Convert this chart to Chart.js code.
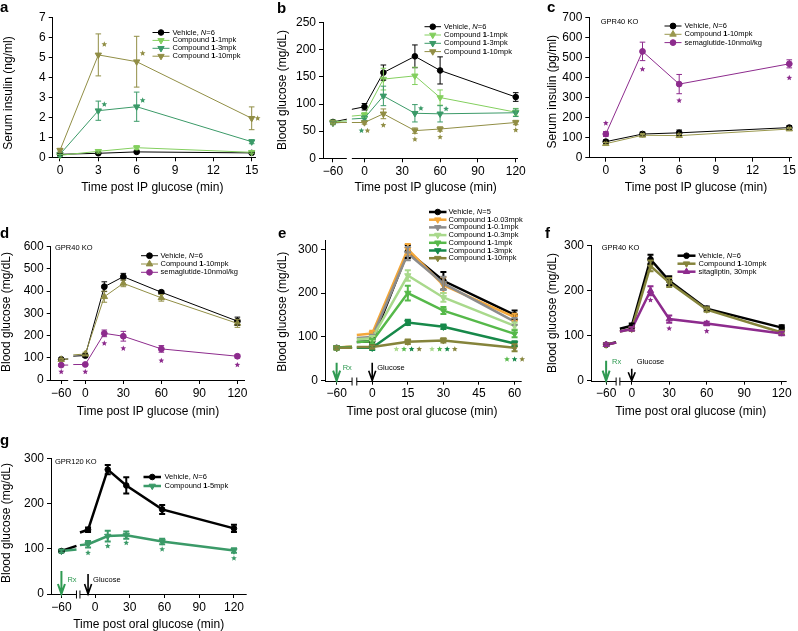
<!DOCTYPE html>
<html>
<head>
<meta charset="utf-8">
<script src="https://cdn.jsdelivr.net/npm/chart.js@4.4.1/dist/chart.umd.min.js"></script>
<style>
  body { margin: 0; background: #fff; width: 798px; height: 631px; overflow: hidden; position: relative; }
  canvas { position: absolute; }
</style>
</head>
<body>
<script>
// ---- a: serum insulin after IP glucose ----
const aTime = [0, 3, 6, 15];
const aVehicle = [0.15, 0.2, 0.27, 0.22];
const aVehicleErr = [0.05, 0.05, 0.05, 0.04];
const a1mpk = [0.1, 0.3, 0.48, 0.25];
const a1mpkErr = [0.05, 0.08, 0.1, 0.05];
const a3mpk = [0.15, 2.33, 2.53, 0.78];
const a3mpkErr = [0.1, 0.48, 0.73, 0.1];
const a10mpk = [0.35, 5.12, 4.78, 1.95];
const a10mpkErr = [0.1, 1.05, 1.27, 0.57];
const a3mpkStar = [null, 2.65, 2.85, null];
const a10mpkStar = [null, 5.65, 5.2, 1.95];

// ---- b: blood glucose, IP glucose ----
const bTime = [-60, 0, 15, 40, 60, 120];
const bVehicle = [67, 95, 158, 188, 162, 113];
const bVehicleErr = [3, 6, 14, 21, 25, 8];
const b1mpk = [67, 80, 146, 152, 112, 85];
const b1mpkErr = [3, 4, 20, 16, 14, 7];
const b3mpk = [65, 74, 115, 83, 82, 84];
const b3mpkErr = [3, 4, 18, 16, 15, 7];
const b10mpk = [66, 66, 82, 51, 54, 66];
const b10mpkErr = [3, 3, 9, 5, 4, 4];
const b3mpkStar = [null, 51, null, 92, 91, null];
const b10mpkStar = [null, 51, 61, 35, 39, 52];

// ---- c: GPR40 KO serum insulin ----
const cTime = [0, 3, 6, 15];
const cVehicle = [80, 118, 124, 150];
const cVehicleErr = [8, 10, 14, 10];
const cCmpd = [70, 112, 110, 143];
const cCmpdErr = [6, 8, 8, 6];
const cSema = [118, 530, 367, 468];
const cSemaErr = [12, 46, 48, 20];
const cSemaStar = [172, 441, 285, 398];

// ---- d: GPR40 KO blood glucose, IP ----
const dTime = [-60, 0, 15, 30, 60, 120];
const dVehicle = [93, 110, 420, 465, 395, 265];
const dVehicleErr = [5, 8, 22, 15, 8, 18];
const dCmpd = [92, 117, 375, 435, 370, 255];
const dCmpdErr = [5, 8, 25, 15, 15, 18];
const dSema = [67, 70, 210, 197, 140, 107];
const dSemaErr = [5, 5, 15, 22, 15, 8];
const dSemaStar = [37, 37, 165, 142, 87, 68];

// ---- e: dose response, oral glucose ----
const eTime = [-60, 0, 15, 30, 60];
const eVehicle = [75, 90, 295, 228, 150];
const eVehicleErr = [3, 6, 15, 20, 10];
const e003 = [75, 108, 300, 218, 145];
const e003Err = [3, 6, 12, 18, 8];
const e01 = [75, 100, 290, 222, 135];
const e01Err = [3, 5, 15, 15, 8];
const e03 = [75, 97, 240, 190, 125];
const e03Err = [3, 5, 12, 10, 8];
const e1 = [75, 90, 200, 160, 107];
const e1Err = [3, 5, 17, 8, 8];
const e3 = [75, 75, 133, 123, 85];
const e3Err = [3, 5, 6, 5, 5];
const e10 = [75, 77, 89, 92, 75];
const e10Err = [3, 4, 5, 5, 8];
const e03Star = [null, null, 72, 72, null];
const e1Star = [null, null, 72, 72, 49];
const e3Star = [null, null, 72, 72, 49];
const e10Star = [null, null, 72, 72, 49];

// ---- f: GPR40 KO, oral glucose ----
const fTime = [-60, 0, 15, 30, 60, 120];
const fVehicle = [80, 122, 270, 222, 160, 118];
const fVehicleErr = [3, 5, 10, 10, 5, 5];
const fCmpd = [80, 115, 255, 218, 158, 107];
const fCmpdErr = [3, 4, 12, 10, 5, 4];
const fSita = [80, 115, 200, 137, 127, 105];
const fSitaErr = [3, 4, 10, 8, 4, 4];
const fSitaStar = [null, null, 179, 116, 110, null];

// ---- g: GPR120 KO, oral glucose ----
const gTime = [-60, -6, 11, 27, 58, 120];
const gVehicle = [95, 142, 275, 240, 187, 145];
const gVehicleErr = [2, 5, 10, 18, 10, 8];
const gCmpd = [95, 110, 128, 130, 116, 96];
const gCmpdErr = [3, 7, 12, 8, 6, 5];
const gCmpdStar = [null, 91, 106, 113, 99, 79];

const ipTicks = [0, 3, 6, 9, 12, 15];
const longTicks = [-60, 0, 30, 60, 90, 120];
const eTicks = [-60, 0, 15, 30, 45, 60];

const FONT = "'Liberation Sans', Arial, Helvetica, sans-serif";
Chart.defaults.font.family = FONT;
Chart.defaults.font.size = 12;
Chart.defaults.color = '#000';

const C = {
  black: '#000000', g1: '#83cf5e', g3: '#3b9a68', olive: '#918e45',
  purple: '#8d2b8d', oliveC: '#9a984e', orange: '#f3a73a', gray: '#8c8c8c',
  lg: '#a9d98c', green: '#56b94a', dg: '#17894a', oliveE: '#85843b', rx: '#2f9a52'
};

const panels = [
  {
    id: 'a', box: [0, 0, 266, 205], area: [52.7, 17.3, 255, 157.3], x: [-0.57, 15.26], y: [0, 7, 1],
    xTicks: ipTicks, time: aTime, lw: 1, r: 2.8, cap: 2.8, ebw: 1,
    series: [
      { label: 'Vehicle, _N_=6', data: aVehicle, err: aVehicleErr, color: C.black, shape: 'circle' },
      { label: 'Compound *1*-1mpk', data: a1mpk, err: a1mpkErr, color: C.g1, shape: 'down' },
      { label: 'Compound *1*-3mpk', data: a3mpk, err: a3mpkErr, star: a3mpkStar, color: C.g3, shape: 'down', starDx: 6 },
      { label: 'Compound *1*-10mpk', data: a10mpk, err: a10mpkErr, star: a10mpkStar, color: C.olive, shape: 'down', starDx: 6 }
    ],
    legend: { x0: 152.5, x1: 169.5, tx: 172.5, y0: 32.5, dy: 7.9 },
    letter: { t: 'a', x: 0, y: 12 },
    xTitle: { t: 'Time post IP glucose (min)', x: 152.3, y: 187.7 },
    yTitle: { t: 'Serum insulin (ng/ml)', x: 9, y: 93 }
  },
  {
    id: 'b', box: [266, 0, 266, 205], area: [323, 22.7, 518, 158.3], x: [-32.9, 121.8], y: [0, 250, 50],
    xTicks: longTicks, time: bTime, lw: 1, r: 2.8, cap: 2.8, ebw: 1,
    brk: { shift: 35, gapL: -14, gapR: -10, marks: false },
    series: [
      { label: 'Vehicle, _N_=6', data: bVehicle, err: bVehicleErr, color: C.black, shape: 'circle' },
      { label: 'Compound *1*-1mpk', data: b1mpk, err: b1mpkErr, color: C.g1, shape: 'down' },
      { label: 'Compound *1*-3mpk', data: b3mpk, err: b3mpkErr, star: b3mpkStar, color: C.g3, shape: 'down', starDx: 6 },
      { label: 'Compound *1*-10mpk', data: b10mpk, err: b10mpkErr, star: b10mpkStar, color: C.olive, shape: 'down' }
    ],
    legend: { x0: 424.5, x1: 441, tx: 444, y0: 26.7, dy: 8.3 },
    letter: { t: 'b', x: 277, y: 12.5 },
    xTitle: { t: 'Time post IP glucose (min)', x: 425.7, y: 188 },
    yTitle: { t: 'Blood glucose (mg/dL)', x: 282.5, y: 90 }
  },
  {
    id: 'c', box: [532, 0, 266, 205], area: [589.3, 17.3, 793.5, 157.7], x: [-1.35, 15.15], y: [0, 700, 100],
    xTicks: ipTicks, time: cTime, lw: 1, r: 2.9, cap: 2.8, ebw: 1,
    series: [
      { label: 'Vehicle, _N_=6', data: cVehicle, err: cVehicleErr, color: C.black, shape: 'circle' },
      { label: 'Compound *1*-10mpk', data: cCmpd, err: cCmpdErr, color: C.oliveC, shape: 'up' },
      { label: 'semaglutide-10nmol/kg', data: cSema, err: cSemaErr, star: cSemaStar, color: C.purple, shape: 'circle' }
    ],
    legend: { x0: 664.5, x1: 681.5, tx: 684.5, y0: 26, dy: 8.3 },
    note: { t: 'GPR40 KO', x: 600.7, y: 21.7 },
    letter: { t: 'c', x: 547, y: 12 },
    xTitle: { t: 'Time post IP glucose (min)', x: 696, y: 188 },
    yTitle: { t: 'Serum insulin (pg/ml)', x: 553, y: 91.7 }
  },
  {
    id: 'd', box: [0, 205, 266, 214], area: [50.7, 246.7, 245, 380], x: [-27.3, 126], y: [0, 600, 100],
    xTicks: longTicks, time: dTime, lw: 1, r: 2.9, cap: 2.8, ebw: 1,
    brk: { shift: 41, gapL: -13.5, gapR: -9.5, marks: false },
    series: [
      { label: 'Vehicle, _N_=6', data: dVehicle, err: dVehicleErr, color: C.black, shape: 'circle' },
      { label: 'Compound *1*-10mpk', data: dCmpd, err: dCmpdErr, color: C.olive, shape: 'up' },
      { label: 'semaglutide-10nmol/kg', data: dSema, err: dSemaErr, star: dSemaStar, color: C.purple, shape: 'circle' }
    ],
    legend: { x0: 141, x1: 158, tx: 160.5, y0: 255.7, dy: 8.3 },
    note: { t: 'GPR40 KO', x: 55, y: 248 },
    letter: { t: 'd', x: 0, y: 238 },
    xTitle: { t: 'Time post IP glucose (min)', x: 148, y: 412 },
    yTitle: { t: 'Blood glucose (mg/dL)', x: 6.7, y: 312 }
  },
  {
    id: 'e', box: [266, 205, 266, 214], area: [325, 240.5, 521.7, 380.7], x: [-19.9, 63], y: [0, 320, 100],
    xTicks: eTicks, time: eTime, lw: 2.5, r: 2.8, cap: 3, ebw: 2,
    brk: { shift: 45, gapL: -8.5, gapR: -6.5, marks: true },
    starGap: 7.6,
    series: [
      { label: 'Vehicle, _N_=5', data: eVehicle, err: eVehicleErr, color: C.black, shape: 'circle' },
      { label: 'Compound *1*-0.03mpk', data: e003, err: e003Err, color: C.orange, shape: 'down' },
      { label: 'Compound *1*-0.1mpk', data: e01, err: e01Err, color: C.gray, shape: 'down' },
      { label: 'Compound *1*-0.3mpk', data: e03, err: e03Err, star: e03Star, color: C.lg, shape: 'down' },
      { label: 'Compound *1*-1mpk', data: e1, err: e1Err, star: e1Star, color: C.green, shape: 'down' },
      { label: 'Compound *1*-3mpk', data: e3, err: e3Err, star: e3Star, color: C.dg, shape: 'down' },
      { label: 'Compound *1*-10mpk', data: e10, err: e10Err, star: e10Star, color: C.oliveE, shape: 'down' }
    ],
    legend: { x0: 429, x1: 446.5, tx: 448.5, y0: 212, dy: 7.7 },
    arrows: { rx: -60, glu: 0, rxLen: 18, gluLen: 18, labelDy: -12.5 },
    letter: { t: 'e', x: 278, y: 238 },
    xTitle: { t: 'Time post oral glucose (min)', x: 422, y: 412 },
    yTitle: { t: 'Blood glucose (mg/dL)', x: 282.5, y: 311.7 }
  },
  {
    id: 'f', box: [532, 205, 266, 214], area: [591, 245.7, 786.7, 380.7], x: [-32.6, 124], y: [0, 300, 100],
    xTicks: longTicks, time: fTime, lw: 2.5, r: 2.8, cap: 3, ebw: 2,
    brk: { shift: 39.5, gapL: -12.5, gapR: -9.5, marks: true },
    series: [
      { label: 'Vehicle, _N_=6', data: fVehicle, err: fVehicleErr, color: C.black, shape: 'circle' },
      { label: 'Compound *1*-10mpk', data: fCmpd, err: fCmpdErr, color: C.oliveE, shape: 'down' },
      { label: 'sitagliptin, 30mpk', data: fSita, err: fSitaErr, star: fSitaStar, color: C.purple, shape: 'up' }
    ],
    legend: { x0: 677.5, x1: 695.5, tx: 698.5, y0: 255.7, dy: 8 },
    note: { t: 'GPR40 KO', x: 601.7, y: 248.3 },
    arrows: { rx: -60, glu: 0, rxLen: 20, gluLen: 12, labelDy: -19 },
    letter: { t: 'f', x: 545, y: 238 },
    xTitle: { t: 'Time post oral glucose (min)', x: 690.7, y: 412 },
    yTitle: { t: 'Blood glucose (mg/dL)', x: 553, y: 313 }
  },
  {
    id: 'g', box: [0, 419, 266, 212], area: [51, 458.3, 246.7, 594], x: [-38, 131], y: [0, 300, 100],
    xTicks: longTicks, time: gTime, lw: 2.5, r: 2.8, cap: 3, ebw: 2,
    brk: { shift: 31, gapL: -16, gapR: -13, marks: true },
    series: [
      { label: 'Vehicle, _N_=6', data: gVehicle, err: gVehicleErr, color: C.black, shape: 'circle' },
      { label: 'Compound *1*-5mpk', data: gCmpd, err: gCmpdErr, star: gCmpdStar, color: C.g3, shape: 'down' }
    ],
    legend: { x0: 143.5, x1: 161, tx: 164.5, y0: 477, dy: 9 },
    note: { t: 'GPR120 KO', x: 55, y: 461.7 },
    arrows: { rx: -60, glu: -6, rxLen: 23, gluLen: 20, labelDy: -14 },
    letter: { t: 'g', x: 0, y: 445 },
    xTitle: { t: 'Time post oral glucose (min)', x: 148.7, y: 624.3 },
    yTitle: { t: 'Blood glucose (mg/dL)', x: 6.7, y: 523 }
  }
];

// pre-break times are pulled right by brk.shift so the axis can be cut
function disp(p, t) {
  return p.brk && t <= p.brk.gapL - p.brk.shift ? t + p.brk.shift : t;
}

function fmtTick(v) {
  return v < 0 ? '\u2212' + Math.abs(v) : String(v);
}

function markerOpts(p, s) {
  return {
    pointStyle: s.shape === 'circle' ? 'circle' : 'triangle',
    rotation: s.shape === 'down' ? 180 : 0,
    radius: s.shape === 'circle' ? p.r : p.r * 1.3,
    borderWidth: 1
  };
}

function drawMarker(ctx, p, s, x, y) {
  const o = markerOpts(p, s);
  ctx.fillStyle = s.color;
  ctx.strokeStyle = s.color;
  ctx.lineWidth = 1;
  if (Chart.helpers && Chart.helpers.drawPoint) {
    Chart.helpers.drawPoint(ctx, o, x, y);
    return;
  }
  ctx.beginPath();
  if (o.pointStyle === 'circle') ctx.arc(x, y, o.radius, 0, Math.PI * 2);
  else {
    const d = o.rotation ? -1 : 1;
    ctx.moveTo(x, y - d * o.radius);
    ctx.lineTo(x + o.radius * 0.87, y + d * o.radius * 0.5);
    ctx.lineTo(x - o.radius * 0.87, y + d * o.radius * 0.5);
    ctx.closePath();
  }
  ctx.fill();
}

function drawStar(ctx, x, y, r, color) {
  ctx.beginPath();
  for (let k = 0; k < 10; k++) {
    const rr = k % 2 ? r * 0.45 : r;
    const ang = -Math.PI / 2 + k * Math.PI / 5;
    ctx.lineTo(x + rr * Math.cos(ang), y + rr * Math.sin(ang));
  }
  ctx.closePath();
  ctx.fillStyle = color;
  ctx.fill();
}

// "_x_" italic, "*x*" bold
function richText(ctx, str, x, y, size) {
  str.split(/(_[^_]+_|\*[^*]+\*)/).filter(Boolean).forEach(part => {
    let style = '';
    let t = part;
    if (part[0] === '_') { style = 'italic '; t = part.slice(1, -1); }
    else if (part[0] === '*') { style = 'bold '; t = part.slice(1, -1); }
    ctx.font = style + size + 'px ' + FONT;
    ctx.fillText(t, x, y);
    x += ctx.measureText(t).width;
  });
}

function drawArrow(ctx, x, yBot, len, color, lw) {
  ctx.strokeStyle = color;
  ctx.lineWidth = lw;
  ctx.lineCap = 'butt';
  ctx.beginPath();
  ctx.moveTo(x, yBot - len);
  ctx.lineTo(x, yBot);
  ctx.moveTo(x - 3.5, yBot - Math.min(10, len * 0.7));
  ctx.lineTo(x, yBot);
  ctx.lineTo(x + 3.5, yBot - Math.min(10, len * 0.7));
  ctx.stroke();
}

function panelPlugin(p) {
  const bx = p.box[0], by = p.box[1];
  return {
    id: 'panel_' + p.id,
    beforeDatasetsDraw(chart) {
      if (!p.brk) return;
      const ctx = chart.ctx;
      const X = v => chart.scales.x.getPixelForValue(v);
      const Y = v => chart.scales.y.getPixelForValue(v);
      const cutStart = p.brk.gapL - p.brk.shift;
      ctx.save();
      ctx.lineWidth = p.lw;
      p.series.forEach(s => {
        const t0 = p.time[0], t1 = p.time[1], v0 = s.data[0], v1 = s.data[1];
        const at = t => v0 + (v1 - v0) * (t - t0) / (t1 - t0);
        ctx.strokeStyle = s.color;
        ctx.beginPath();
        ctx.moveTo(X(disp(p, t0)), Y(v0));
        ctx.lineTo(X(p.brk.gapL), Y(at(cutStart)));
        ctx.moveTo(X(p.brk.gapR), Y(at(p.brk.gapR)));
        ctx.lineTo(X(t1), Y(v1));
        ctx.stroke();
      });
      ctx.restore();
    },
    afterDatasetsDraw(chart) {
      const ctx = chart.ctx;
      const X = v => chart.scales.x.getPixelForValue(v);
      const Y = v => chart.scales.y.getPixelForValue(v);
      ctx.save();
      ctx.lineWidth = p.ebw;
      p.series.forEach(s => {
        ctx.strokeStyle = s.color;
        s.data.forEach((v, i) => {
          const e = s.err[i];
          if (!e) return;
          const x = X(disp(p, p.time[i])), yt = Y(v + e), yb = Y(v - e);
          ctx.beginPath();
          ctx.moveTo(x, yt); ctx.lineTo(x, yb);
          ctx.moveTo(x - p.cap, yt); ctx.lineTo(x + p.cap, yt);
          ctx.moveTo(x - p.cap, yb); ctx.lineTo(x + p.cap, yb);
          ctx.stroke();
        });
      });
      // significance stars; same time and height -> spread in a row
      const stars = [];
      p.series.forEach(s => {
        if (!s.star) return;
        s.star.forEach((v, i) => { if (v != null) stars.push({ t: p.time[i], v, s }); });
      });
      const groups = {};
      stars.forEach(st => { (groups[st.t + '|' + st.v] = groups[st.t + '|' + st.v] || []).push(st); });
      Object.values(groups).forEach(g => {
        g.forEach((st, k) => {
          const dx = g.length > 1 ? (k - (g.length - 1) / 2) * (p.starGap || 6) : (st.s.starDx || 0);
          drawStar(ctx, X(disp(p, st.t)) + dx, Y(st.v), 3, st.s.color);
        });
      });
      ctx.restore();
    },
    afterDraw(chart) {
      const ctx = chart.ctx;
      const ca = chart.chartArea;
      const X = v => chart.scales.x.getPixelForValue(v);
      ctx.save();
      // x axis line with a cut
      if (p.brk) {
        const yb = Math.round(ca.bottom) + 0.5;
        ctx.strokeStyle = '#000';
        ctx.lineWidth = 1;
        ctx.beginPath();
        ctx.moveTo(ca.left, yb); ctx.lineTo(X(p.brk.gapL), yb);
        ctx.moveTo(X(p.brk.gapR), yb); ctx.lineTo(ca.right, yb);
        if (p.brk.marks) {
          ctx.moveTo(X(p.brk.gapL), yb - 4); ctx.lineTo(X(p.brk.gapL), yb + 4);
          ctx.moveTo(X(p.brk.gapR), yb - 4); ctx.lineTo(X(p.brk.gapR), yb + 4);
        }
        ctx.stroke();
      }
      // dosing arrows
      if (p.arrows) {
        const a = p.arrows;
        const xr = X(disp(p, a.rx)), xg = X(disp(p, a.glu));
        drawArrow(ctx, xr, ca.bottom, a.rxLen, C.rx, 2);
        drawArrow(ctx, xg, ca.bottom, a.gluLen, '#000', 1.6);
        ctx.font = '7.5px ' + FONT;
        ctx.textAlign = 'left';
        ctx.textBaseline = 'middle';
        ctx.fillStyle = C.rx;
        ctx.fillText('Rx', xr + 6, ca.bottom + a.labelDy);
        ctx.fillStyle = '#000';
        ctx.fillText('Glucose', xg + 5, ca.bottom + a.labelDy);
      }
      ctx.fillStyle = '#000';
      ctx.textAlign = 'left';
      ctx.textBaseline = 'alphabetic';
      ctx.font = 'bold 15px ' + FONT;
      ctx.fillText(p.letter.t, p.letter.x - bx, p.letter.y - by);
      ctx.font = '12px ' + FONT;
      ctx.textAlign = 'center';
      ctx.textBaseline = 'middle';
      ctx.fillText(p.xTitle.t, p.xTitle.x - bx, p.xTitle.y - by);
      ctx.save();
      ctx.translate(p.yTitle.x - bx, p.yTitle.y - by);
      ctx.rotate(-Math.PI / 2);
      ctx.fillText(p.yTitle.t, 0, 0);
      ctx.restore();
      ctx.textAlign = 'left';
      if (p.note) {
        ctx.font = '7.5px ' + FONT;
        ctx.fillText(p.note.t, p.note.x - bx, p.note.y - by);
      }
      // legend
      const L = p.legend;
      p.series.forEach((s, i) => {
        const y = L.y0 - by + i * L.dy;
        ctx.strokeStyle = s.color;
        ctx.lineWidth = p.lw;
        ctx.beginPath();
        ctx.moveTo(L.x0 - bx, y); ctx.lineTo(L.x1 - bx, y);
        ctx.stroke();
        drawMarker(ctx, p, s, (L.x0 + L.x1) / 2 - bx, y);
        ctx.fillStyle = '#000';
        ctx.textBaseline = 'middle';
        richText(ctx, s.label, L.tx - bx, y, 7.5);
      });
      ctx.restore();
    }
  };
}

function makePanel(p) {
  const [bx, by, bw, bh] = p.box;
  const [L, T, R, B] = p.area;
  const cv = document.createElement('canvas');
  cv.width = bw; cv.height = bh;
  cv.style.left = bx + 'px'; cv.style.top = by + 'px';
  cv.style.width = bw + 'px'; cv.style.height = bh + 'px';
  document.body.appendChild(cv);
  const yW = 30, xH = 20;
  const n = p.series.length;
  new Chart(cv, {
    type: 'line',
    data: {
      datasets: p.series.map((s, i) => {
        const m = markerOpts(p, s);
        return {
          data: p.time.map((t, k) => ({ x: disp(p, t), y: s.data[k] })),
          borderColor: s.color,
          backgroundColor: s.color,
          borderWidth: p.lw,
          pointStyle: m.pointStyle,
          pointRotation: m.rotation,
          pointRadius: m.radius,
          pointBorderWidth: 1,
          pointBackgroundColor: s.color,
          pointBorderColor: s.color,
          tension: 0,
          clip: false,
          order: n - 1 - i,
          segment: { borderColor: c => (p.brk && c.p0DataIndex === 0) ? 'rgba(0,0,0,0)' : undefined }
        };
      })
    },
    options: {
      responsive: false,
      animation: false,
      events: [],
      devicePixelRatio: 1,
      layout: { padding: { left: L - bx - yW, top: T - by, right: bx + bw - R, bottom: by + bh - B - xH } },
      plugins: { legend: { display: false }, tooltip: { enabled: false } },
      scales: {
        x: {
          type: 'linear', min: p.x[0], max: p.x[1],
          afterFit: s => { s.height = xH; },
          afterBuildTicks: s => { s.ticks = p.xTicks.map(v => ({ value: disp(p, v) })); },
          ticks: { autoSkip: false, maxRotation: 0, padding: 2, color: '#000', callback: (v, i) => fmtTick(p.xTicks[i]) },
          grid: { drawOnChartArea: false, drawTicks: true, tickLength: 4, color: '#000' },
          border: { display: !p.brk, color: '#000', width: 1 }
        },
        y: {
          type: 'linear', min: p.y[0], max: p.y[1],
          afterFit: s => { s.width = yW; },
          ticks: { stepSize: p.y[2], includeBounds: false, padding: 3, color: '#000' },
          grid: { drawOnChartArea: false, drawTicks: true, tickLength: 4, color: '#000' },
          border: { display: true, color: '#000', width: 1 }
        }
      }
    },
    plugins: [panelPlugin(p)]
  });
}

panels.forEach(makePanel);
</script>
</body>
</html>
